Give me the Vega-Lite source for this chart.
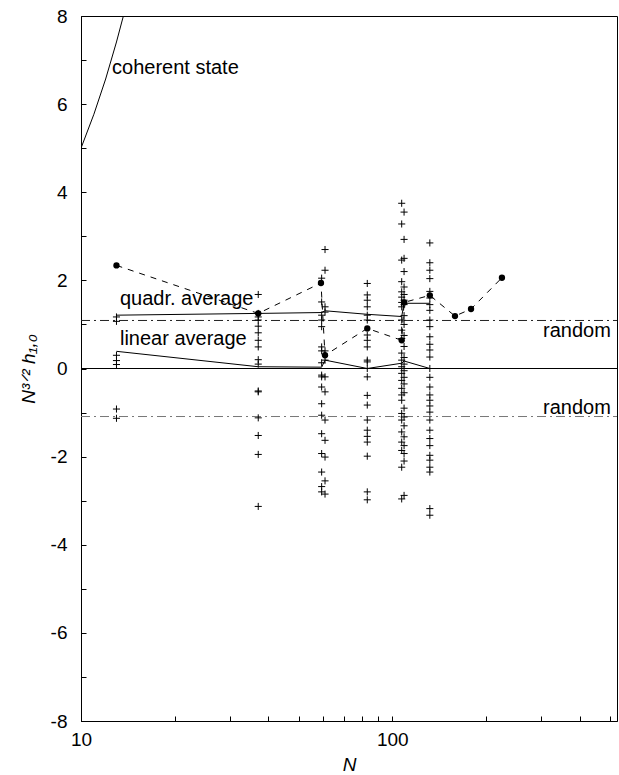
{
  "$schema": "https://vega.github.io/schema/vega-lite/v6.json",
  "width": 536,
  "height": 705,
  "padding": {"left": 81, "top": 16, "right": 2, "bottom": 54},
  "autosize": {"type": "none"},
  "background": "white",
  "config": {
    "view": {"stroke": "black", "strokeWidth": 1},
    "font": "Liberation Sans",
    "axis": {"labelFont": "Liberation Sans", "titleFont": "Liberation Sans", "labelFontSize": 19, "titleFontSize": 19, "labelColor": "black", "titleColor": "black", "domainColor": "black", "tickColor": "black", "grid": false, "titleFontWeight": "normal"}
  },
  "datasets": {
    "pts": [
      {"N": 13, "h": 1.17}, {"N": 13, "h": 1.07}, {"N": 13, "h": 0.3}, {"N": 13, "h": 0.18}, {"N": 13, "h": 0.09}, {"N": 13, "h": -0.92}, {"N": 13, "h": -1.13},
      {"N": 37.1, "h": 1.68}, {"N": 37.1, "h": 1.25}, {"N": 37.1, "h": 1.17}, {"N": 37.1, "h": 1.1}, {"N": 37.1, "h": 0.96}, {"N": 37.1, "h": 0.81}, {"N": 37.1, "h": 0.64}, {"N": 37.1, "h": 0.49}, {"N": 37.1, "h": 0.2}, {"N": 37.1, "h": 0.1}, {"N": 37.1, "h": -0.51}, {"N": 37.1, "h": -0.53}, {"N": 37.1, "h": -1.12}, {"N": 37.1, "h": -1.52}, {"N": 37.1, "h": -1.95}, {"N": 37.1, "h": -3.13},
      {"N": 59.3, "h": 2.05}, {"N": 59.3, "h": 1.51}, {"N": 59.3, "h": 1.21}, {"N": 59.3, "h": 1.1}, {"N": 59.3, "h": 0.95}, {"N": 59.3, "h": 0.49}, {"N": 59.3, "h": 0.4}, {"N": 59.3, "h": 0.13}, {"N": 59.3, "h": -0.15}, {"N": 59.3, "h": -0.19}, {"N": 59.3, "h": -0.42}, {"N": 59.3, "h": -0.8}, {"N": 59.3, "h": -1.06}, {"N": 59.3, "h": -1.48}, {"N": 59.3, "h": -1.93}, {"N": 59.3, "h": -2.35}, {"N": 59.3, "h": -2.68}, {"N": 59.3, "h": -2.8},
      {"N": 60.8, "h": 2.7}, {"N": 60.8, "h": 2.23}, {"N": 60.8, "h": 1.4}, {"N": 60.8, "h": 1.28}, {"N": 60.8, "h": 0.4}, {"N": 60.8, "h": 0.19}, {"N": 60.8, "h": -0.19}, {"N": 60.8, "h": -0.53}, {"N": 60.8, "h": -1.17}, {"N": 60.8, "h": -1.63}, {"N": 60.8, "h": -2.01}, {"N": 60.8, "h": -2.55}, {"N": 60.8, "h": -2.85},
      {"N": 83.1, "h": 1.93}, {"N": 83.1, "h": 1.67}, {"N": 83.1, "h": 1.55}, {"N": 83.1, "h": 1.4}, {"N": 83.1, "h": 1.21}, {"N": 83.1, "h": 1.1}, {"N": 83.1, "h": 0.76}, {"N": 83.1, "h": 0.64}, {"N": 83.1, "h": 0.49}, {"N": 83.1, "h": 0.19}, {"N": 83.1, "h": 0.15}, {"N": 83.1, "h": 0.0}, {"N": 83.1, "h": -0.19}, {"N": 83.1, "h": -0.61}, {"N": 83.1, "h": -0.83}, {"N": 83.1, "h": -1.17}, {"N": 83.1, "h": -1.4}, {"N": 83.1, "h": -1.54}, {"N": 83.1, "h": -1.67}, {"N": 83.1, "h": -1.99}, {"N": 83.1, "h": -2.8}, {"N": 83.1, "h": -2.98},
      {"N": 107.2, "h": 3.75}, {"N": 107.2, "h": 3.28}, {"N": 107.2, "h": 2.46}, {"N": 107.2, "h": 1.97}, {"N": 107.2, "h": 1.74}, {"N": 107.2, "h": 1.62}, {"N": 107.2, "h": 1.5}, {"N": 107.2, "h": 1.4}, {"N": 107.2, "h": 1.1}, {"N": 107.2, "h": 0.87}, {"N": 107.2, "h": 0.68}, {"N": 107.2, "h": 0.35}, {"N": 107.2, "h": 0.19}, {"N": 107.2, "h": 0.04}, {"N": 107.2, "h": -0.11}, {"N": 107.2, "h": -0.27}, {"N": 107.2, "h": -0.45}, {"N": 107.2, "h": -0.6}, {"N": 107.2, "h": -0.72}, {"N": 107.2, "h": -1.02}, {"N": 107.2, "h": -1.17}, {"N": 107.2, "h": -1.44}, {"N": 107.2, "h": -1.67}, {"N": 107.2, "h": -1.86}, {"N": 107.2, "h": -2.24}, {"N": 107.2, "h": -2.96},
      {"N": 109.1, "h": 3.55}, {"N": 109.1, "h": 2.93}, {"N": 109.1, "h": 2.5}, {"N": 109.1, "h": 2.2}, {"N": 109.1, "h": 1.85}, {"N": 109.1, "h": 1.68}, {"N": 109.1, "h": 1.55}, {"N": 109.1, "h": 1.45}, {"N": 109.1, "h": 1.2}, {"N": 109.1, "h": 1.0}, {"N": 109.1, "h": 0.75}, {"N": 109.1, "h": 0.5}, {"N": 109.1, "h": 0.25}, {"N": 109.1, "h": 0.1}, {"N": 109.1, "h": -0.05}, {"N": 109.1, "h": -0.2}, {"N": 109.1, "h": -0.35}, {"N": 109.1, "h": -0.55}, {"N": 109.1, "h": -0.9}, {"N": 109.1, "h": -1.1}, {"N": 109.1, "h": -1.3}, {"N": 109.1, "h": -1.55}, {"N": 109.1, "h": -1.75}, {"N": 109.1, "h": -1.93}, {"N": 109.1, "h": -2.1}, {"N": 109.1, "h": -2.88},
      {"N": 132, "h": 2.85}, {"N": 132, "h": 2.4}, {"N": 132, "h": 2.23}, {"N": 132, "h": 2.04}, {"N": 132, "h": 1.75}, {"N": 132, "h": 1.6}, {"N": 132, "h": 1.45}, {"N": 132, "h": 1.32}, {"N": 132, "h": 1.1}, {"N": 132, "h": 0.95}, {"N": 132, "h": 0.72}, {"N": 132, "h": 0.55}, {"N": 132, "h": 0.42}, {"N": 132, "h": 0.26}, {"N": 132, "h": 0.0}, {"N": 132, "h": -0.2}, {"N": 132, "h": -0.42}, {"N": 132, "h": -0.6}, {"N": 132, "h": -0.72}, {"N": 132, "h": -0.85}, {"N": 132, "h": -0.99}, {"N": 132, "h": -1.17}, {"N": 132, "h": -1.4}, {"N": 132, "h": -1.59}, {"N": 132, "h": -1.75}, {"N": 132, "h": -1.97}, {"N": 132, "h": -2.08}, {"N": 132, "h": -2.24}, {"N": 132, "h": -2.35}, {"N": 132, "h": -3.18}, {"N": 132, "h": -3.33}
    ],
    "curves": [
      {"s": "coh", "N": 10, "h": 5.0}, {"s": "coh", "N": 11, "h": 5.77}, {"s": "coh", "N": 12, "h": 6.57}, {"s": "coh", "N": 13, "h": 7.41}, {"s": "coh", "N": 13.68, "h": 8.0},
      {"s": "zero", "N": 10, "h": 0}, {"s": "zero", "N": 527, "h": 0},
      {"s": "quad", "N": 13, "h": 1.21}, {"s": "quad", "N": 37.1, "h": 1.25}, {"s": "quad", "N": 59.3, "h": 1.27}, {"s": "quad", "N": 60.8, "h": 1.31}, {"s": "quad", "N": 83.1, "h": 1.23}, {"s": "quad", "N": 107.2, "h": 1.18}, {"s": "quad", "N": 109.1, "h": 1.48}, {"s": "quad", "N": 132, "h": 1.48},
      {"s": "lin", "N": 13, "h": 0.39}, {"s": "lin", "N": 37.1, "h": 0.04}, {"s": "lin", "N": 59.3, "h": 0.03}, {"s": "lin", "N": 60.8, "h": 0.19}, {"s": "lin", "N": 83.1, "h": 0.0}, {"s": "lin", "N": 107.2, "h": 0.12}, {"s": "lin", "N": 109.1, "h": 0.17}, {"s": "lin", "N": 132, "h": 0.0}
    ],
    "dots": [
      {"N": 13, "h": 2.34}, {"N": 37.1, "h": 1.25}, {"N": 59.0, "h": 1.94}, {"N": 60.8, "h": 0.3}, {"N": 83.1, "h": 0.91}, {"N": 107.2, "h": 0.64}, {"N": 109.1, "h": 1.5}, {"N": 132, "h": 1.66}, {"N": 159, "h": 1.19}, {"N": 179, "h": 1.35}, {"N": 225, "h": 2.06}
    ],
    "rand": [
      {"s": "up", "N": 10, "h": 1.09}, {"s": "up", "N": 527, "h": 1.09},
      {"s": "lo", "N": 10, "h": -1.09}, {"s": "lo", "N": 527, "h": -1.09}
    ],
    "labels": [
      {"t": "coherent state", "N": 12.58, "h": 6.82},
      {"t": "quadr. average", "N": 13.34, "h": 1.57},
      {"t": "linear average", "N": 13.34, "h": 0.67},
      {"t": "random", "N": 305, "h": 0.85},
      {"t": "random", "N": 305, "h": -0.9}
    ]
  },
  "layer": [
    {
      "data": {"name": "curves"},
      "mark": {"type": "line", "color": "black", "strokeWidth": 1, "clip": true},
      "encoding": {
        "x": {"field": "N", "type": "quantitative", "scale": {"type": "log", "domain": [10, 527], "nice": false},
              "axis": {"orient": "bottom", "title": "N", "titleFontStyle": "italic", "values": [10,20,30,40,50,60,70,80,90,100,200,300,400,500], "labelExpr": "datum.value == 10 || datum.value == 100 ? datum.label : ''", "tickSize": -5, "labelPadding": 14, "labelFlush": false, "labelOverlap": false, "titlePadding": 6}},
        "y": {"field": "h", "type": "quantitative", "scale": {"domain": [-8, 8], "nice": false, "zero": false},
              "axis": {"orient": "left", "title": "N³ᐟ² h₁,₀", "titleFontStyle": "italic", "values": [-8,-7,-6,-5,-4,-3,-2,-1,0,1,2,3,4,5,6,7,8], "labelExpr": "datum.value % 2 == 0 ? replace(datum.label, '−', '-') : ''", "tickSize": -5, "labelPadding": 19, "labelOverlap": false, "labelFlush": false, "titlePadding": 12}},
        "detail": {"field": "s"}
      }
    },
    {
      "data": {"name": "rand"},
      "mark": {"type": "line", "strokeWidth": 1, "strokeDash": [9, 4, 2, 4]},
      "encoding": {
        "x": {"field": "N", "type": "quantitative"},
        "y": {"field": "h", "type": "quantitative"},
        "detail": {"field": "s"},
        "color": {"field": "s", "type": "nominal", "scale": {"domain": ["up", "lo"], "range": ["#222222", "#777777"]}, "legend": null}
      }
    },
    {
      "data": {"name": "dots"},
      "mark": {"type": "line", "color": "black", "strokeWidth": 1, "strokeDash": [6, 6]},
      "encoding": {
        "x": {"field": "N", "type": "quantitative"},
        "y": {"field": "h", "type": "quantitative"}
      }
    },
    {
      "data": {"name": "dots"},
      "mark": {"type": "point", "shape": "circle", "filled": true, "color": "black", "size": 40, "opacity": 1},
      "encoding": {
        "x": {"field": "N", "type": "quantitative"},
        "y": {"field": "h", "type": "quantitative"}
      }
    },
    {
      "data": {"name": "pts"},
      "mark": {"type": "point", "shape": "M-1,0H1M0,-1V1", "stroke": "black", "strokeWidth": 1, "size": 50, "opacity": 1, "filled": false},
      "encoding": {
        "x": {"field": "N", "type": "quantitative"},
        "y": {"field": "h", "type": "quantitative"}
      }
    },
    {
      "data": {"name": "labels"},
      "mark": {"type": "text", "align": "left", "baseline": "middle", "fontSize": 20, "font": "Liberation Sans", "color": "black"},
      "encoding": {
        "x": {"field": "N", "type": "quantitative"},
        "y": {"field": "h", "type": "quantitative"},
        "text": {"field": "t"}
      }
    }
  ]
}
